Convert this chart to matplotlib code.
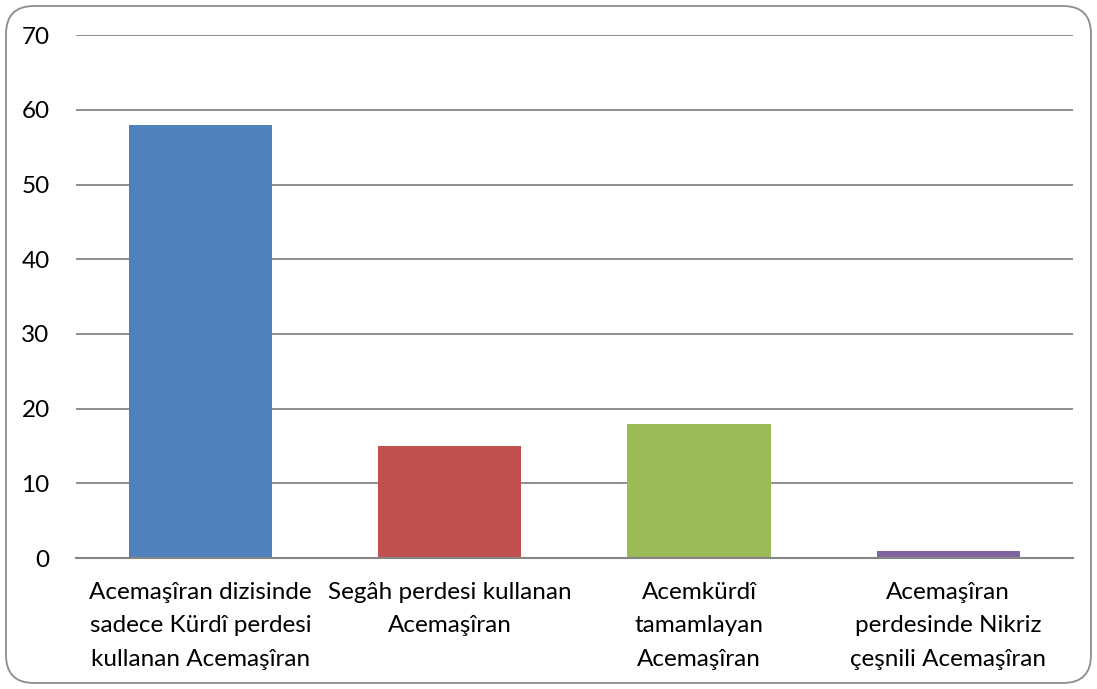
import matplotlib.pyplot as plt
from matplotlib.patches import FancyBboxPatch

# ============================================================
# DATI
# ============================================================

categories = [
    "Acemaşîran dizisinde\nsadece Kürdî perdesi\nkullanan Acemaşîran",
    "Segâh perdesi kullanan\nAcemaşîran",
    "Acemkürdî\ntamamlayan\nAcemaşîran",
    "Acemaşîran\nperdesinde Nikriz\nçeşnili Acemaşîran",
]
values = [58, 15, 18, 1]
y_ticks = [0, 10, 20, 30, 40, 50, 60, 70]

colors = ["#4F81BD", "#C0504D", "#9BBB59", "#8064A2"]

plt.rcParams["font.family"] = ["Lato", "DejaVu Sans"]

# ============================================================
# GRAFICO
# ============================================================

fig = plt.figure(figsize=(10.97, 6.89), dpi=100)
ax = fig.add_axes([0.0693, 0.190, 0.9087, 0.759])

positions = list(range(len(categories)))
ax.bar(positions, values, width=0.575, color=colors, zorder=3)

ax.set_xlim(-0.5, len(categories) - 0.5)
ax.set_ylim(0, 70)
ax.set_yticks(y_ticks)
ax.set_yticklabels([str(t) for t in y_ticks], fontsize=17.5)
ax.set_xticks(positions)
ax.set_xticklabels(categories, fontsize=17.5, linespacing=1.73)

ax.grid(axis="y", color="#868686", linewidth=1.3, zorder=0)
ax.tick_params(axis="both", length=0)
ax.tick_params(axis="y", pad=19)
ax.tick_params(axis="x", pad=17)

for side in ["top", "right", "left"]:
    ax.spines[side].set_visible(False)
ax.spines["bottom"].set_color("#868686")
ax.spines["bottom"].set_linewidth(1.5)
ax.spines["bottom"].set_zorder(4)

# bordo arrotondato del grafico
frame = FancyBboxPatch(
    (0.06, 0.06),
    10.85,
    6.77,
    boxstyle="round,pad=0,rounding_size=0.28",
    transform=fig.dpi_scale_trans,
    facecolor="none",
    edgecolor="#8C8C8C",
    linewidth=1.3,
)
fig.patches.append(frame)

fig.savefig("out.png", dpi=100)
